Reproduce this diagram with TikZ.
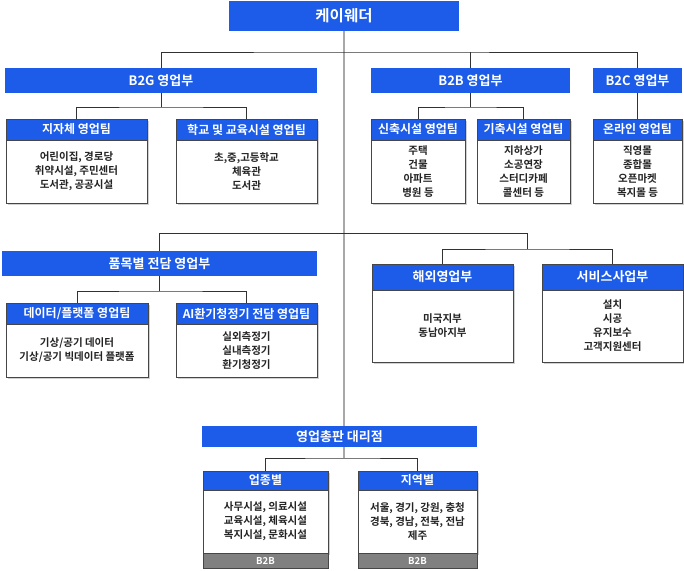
\documentclass[tikz,border=0pt]{standalone}
\usepackage{fontspec}
\setmainfont{Noto Sans CJK KR}[BoldFont={Noto Sans CJK KR Bold}]
\newfontfamily\medfont{Noto Sans CJK KR Bold}
\usetikzlibrary{shadows}
\definecolor{kblue}{RGB}{28,92,232}
\definecolor{kborder}{RGB}{70,70,70}
\definecolor{kdark}{RGB}{35,35,35}
\definecolor{kgray}{RGB}{128,128,128}
\definecolor{ktrunk}{RGB}{168,168,168}
\definecolor{kconn}{RGB}{50,50,50}
\pgfdeclarelayer{bg}
\pgfsetlayers{bg,main}
\begin{document}
\begin{tikzpicture}[x=1pt,y=-1pt,
  topbox/.style={fill=kblue, text=white, inner sep=0pt, minimum height=30pt, font=\bfseries\fontsize{15.5}{17}\selectfont},
  dept/.style={fill=kblue, text=white, inner sep=0pt, minimum height=25pt, font=\bfseries\fontsize{13}{15}\selectfont},
  thdr/.style={fill=kblue, draw=kborder, line width=0.6pt, text=white, inner sep=0pt, minimum height=21pt, font=\bfseries\fontsize{12}{14}\selectfont, drop shadow={shadow xshift=1.5pt, shadow yshift=-1.5pt, fill=black!18, opacity=1}},
  tbody/.style={fill=white, draw=kborder, line width=0.6pt, text=kdark, inner sep=0pt, align=center, font=\medfont\fontsize{10.5}{14}\selectfont, drop shadow={shadow xshift=1.5pt, shadow yshift=-1.5pt, fill=black!18, opacity=1}},
  foot/.style={fill=kgray, draw=kborder, line width=0.6pt, text=white, inner sep=0pt, minimum height=15pt, font=\bfseries\fontsize{9.5}{11}\selectfont},
  conn/.style={draw=kconn, line width=0.8pt},
  trunk/.style={draw=ktrunk, line width=2.2pt}]
\useasboundingbox (0,0) rectangle (684,570);

% top
\node[topbox, minimum width=230pt] (top) at (344,16) {케이웨더};
% departments
\node[dept, minimum width=312pt] (b2g) at (161,80.5) {B2G 영업부};
\node[dept, minimum width=199pt] (b2b) at (470.5,80.5) {B2B 영업부};
\node[dept, minimum width=89pt] (b2c) at (637.5,80.5) {B2C 영업부};
% teams
\node[thdr, minimum width=141pt] (t1) at (76.5,129.5) {지자체 영업팀};
\node[tbody, minimum width=141pt, minimum height=63pt] (t1b) at (76.5,171.5) {어린이집, 경로당\\취약시설, 주민센터\\도서관, 공공시설};
\node[thdr, minimum width=141pt] (t2) at (246.5,129.5) {학교 및 교육시설 영업팀};
\node[tbody, minimum width=141pt, minimum height=63pt] (t2b) at (246.5,171.5) {초,중,고등학교\\체육관\\도서관};
\node[thdr, minimum width=94pt] (t3) at (418,129.5) {신축시설 영업팀};
\node[tbody, minimum width=94pt, minimum height=63pt] (t3b) at (418,171.5) {주택\\건물\\아파트\\병원 등};
\node[thdr, minimum width=93pt] (t4) at (523.5,129.5) {기축시설 영업팀};
\node[tbody, minimum width=93pt, minimum height=63pt] (t4b) at (523.5,171.5) {지하상가\\소공연장\\스터디카페\\콜센터 등};
\node[thdr, minimum width=89pt] (t5) at (637.5,129.5) {온라인 영업팀};
\node[tbody, minimum width=89pt, minimum height=63pt] (t5b) at (637.5,171.5) {직영몰\\종합몰\\오픈마켓\\복지몰 등};
% product dept
\node[dept, minimum width=315pt] (pm) at (159.5,263.5) {품목별 전담 영업부};
\node[thdr, minimum width=142pt] (d1) at (77,313.5) {데이터/플랫폼 영업팀};
\node[tbody, minimum width=142pt, minimum height=53pt] (d1b) at (77,350.5) {기상/공기 데이터\\기상/공기 빅데이터 플랫폼};
\node[thdr, minimum width=141pt] (d2) at (246.5,313.5) {AI환기청정기 전담 영업팀};
\node[tbody, minimum width=141pt, minimum height=53pt] (d2b) at (246.5,350.5) {실외측정기\\실내측정기\\환기청정기};
% overseas / service
\node[thdr, minimum width=141pt, minimum height=26pt, font=\bfseries\fontsize{13}{15}\selectfont] (o1) at (442.5,277) {해외영업부};
\node[tbody, minimum width=141pt, minimum height=72pt] (o1b) at (442.5,326) {미국지부\\동남아지부};
\node[thdr, minimum width=141pt, minimum height=26pt, font=\bfseries\fontsize{13}{15}\selectfont] (o2) at (612.5,277) {서비스사업부};
\node[tbody, minimum width=141pt, minimum height=72pt] (o2b) at (612.5,326) {설치\\시공\\유지보수\\고객지원센터};
% agency
\node[dept, minimum width=275pt, minimum height=21pt] (ag) at (339.5,436.5) {영업총판 대리점};
\node[thdr, minimum width=125pt, minimum height=19pt] (a1) at (265.5,480.5) {업종별};
\node[tbody, minimum width=125pt, minimum height=63pt] (a1b) at (265.5,521.5) {사무시설, 의료시설\\교육시설, 체육시설\\복지시설, 문화시설};
\node[foot, minimum width=125pt] (a1f) at (265.5,560.5) {B2B};
\node[thdr, minimum width=119pt, minimum height=19pt] (a2) at (417.5,480.5) {지역별};
\node[tbody, minimum width=119pt, minimum height=63pt] (a2b) at (417.5,521.5) {서울, 경기, 강원, 충청\\경북, 경남, 전북, 전남\\제주};
\node[foot, minimum width=119pt] (a2f) at (417.5,560.5) {B2B};

% junction coordinates
\coordinate (h1) at (344,52);
\coordinate (j1) at (161,107);
\coordinate (j2) at (470.5,107);
\coordinate (h3) at (527.5,233);
\coordinate (rj) at (527.5,249);
\coordinate (j3) at (159.5,291);
\coordinate (tb) at (344,458);

\begin{pgfonlayer}{bg}
\draw[trunk] (top.south) -- (tb);
\draw[conn] (b2g.north) |- (h1) -| (b2c.north);
\draw[conn] (b2b.north) -- (b2b.north |- h1);
\draw[conn] (b2g.south) -- (j1);
\draw[conn] (t1.north) |- (j1) -| (t2.north);
\draw[conn] (b2b.south) -- (j2);
\draw[conn] (t3.north) |- (j2) -| (t4.north);
\draw[conn] (b2c.south) -- (t5.north);
\draw[conn] (pm.north) |- (h3) -- (rj);
\draw[conn] (o1.north) |- (rj) -| (o2.north);
\draw[conn] (pm.south) -- (j3);
\draw[conn] (d1.north) |- (j3) -| (d2.north);
\draw[conn] (a1.north) |- (tb) -| (a2.north);
\end{pgfonlayer}
\end{tikzpicture}
\end{document}
